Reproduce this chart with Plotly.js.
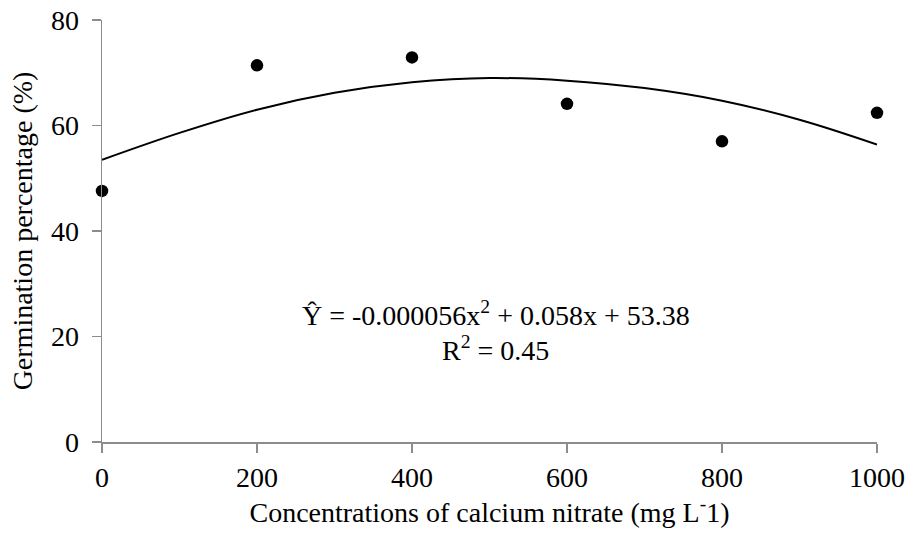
<!DOCTYPE html>
<html>
<head>
<meta charset="utf-8">
<script src="https://cdn.plot.ly/plotly-3.0.1.min.js"></script>
<style>html,body{margin:0;padding:0;background:#fff;}#chart{width:910px;height:533px;}</style>
</head>
<body>
<div id="chart"></div>
<script>
// Observed germination percentages
var concentrations = [0, 200, 400, 600, 800, 1000];
var germination = [47.6, 71.4, 72.9, 64.1, 57.0, 62.4];

// Fitted curve
var fitX = [0, 100, 200, 300, 400, 500, 600, 700, 800, 900, 1000];
var fitY = [53.5, 58.6, 63.0, 66.2, 68.2, 69.0, 68.5, 67.1, 64.7, 61.1, 56.4];

var equationText = "Ŷ = -0.000056x<sup>2</sup> + 0.058x + 53.38";
var r2Text = "R<sup>2</sup> = 0.45";

var xTicks = [0, 200, 400, 600, 800, 1000];
var yTicks = [0, 20, 40, 60, 80];

var fontFam = "Liberation Serif, Times New Roman, serif";
var axisGray = "#8c8c8c";

var traces = [
  {x: fitX, y: fitY, type: "scatter", mode: "lines",
   line: {color: "#000", width: 2, shape: "spline"}, hoverinfo: "skip", cliponaxis: false},
  {x: concentrations, y: germination, type: "scatter", mode: "markers",
   marker: {color: "#000", size: 12.5, symbol: "circle"}, cliponaxis: false}
];

var layout = {
  width: 910, height: 533,
  margin: {l: 102, r: 33, t: 20, b: 91},
  paper_bgcolor: "#fff", plot_bgcolor: "#fff",
  showlegend: false,
  font: {family: fontFam, size: 28, color: "#000"},
  xaxis: {
    range: [0, 1000], tickvals: xTicks, ticktext: xTicks.map(String),
    showgrid: false, zeroline: false, showline: true, linecolor: axisGray, linewidth: 1.5,
    ticks: "outside", ticklen: 9, tickcolor: axisGray, tickwidth: 1.5,
    tickfont: {family: fontFam, size: 28, color: "#000"},
    ticklabelstandoff: 1,
    title: {text: "Concentrations of calcium nitrate (mg L<sup>-</sup>1)",
            font: {family: fontFam, size: 28, color: "#000"}, standoff: 8}
  },
  yaxis: {
    range: [0, 80], tickvals: yTicks, ticktext: yTicks.map(String),
    showgrid: false, zeroline: false, showline: true, linecolor: axisGray, linewidth: 1.5,
    ticks: "outside", ticklen: 9, tickcolor: axisGray, tickwidth: 1.5,
    tickfont: {family: fontFam, size: 28, color: "#000"},
    ticklabelstandoff: 7,
    title: {text: "Germination percentage (%)",
            font: {family: fontFam, size: 28, color: "#000"}, standoff: 10}
  },
  annotations: [
    {xref: "paper", yref: "paper", x: 0.508, y: 0.305, text: equationText, showarrow: false,
     xanchor: "center", yanchor: "middle", font: {family: fontFam, size: 28, color: "#000"}},
    {xref: "paper", yref: "paper", x: 0.508, y: 0.222, text: r2Text, showarrow: false,
     xanchor: "center", yanchor: "middle", font: {family: fontFam, size: 28, color: "#000"}}
  ]
};

Plotly.newPlot("chart", traces, layout, {staticPlot: true, displayModeBar: false});
</script>
</body>
</html>
